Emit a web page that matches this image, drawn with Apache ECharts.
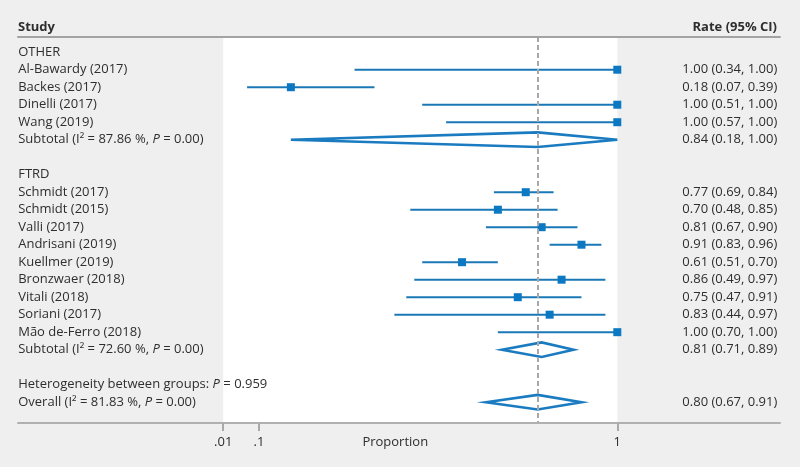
<!DOCTYPE html>
<html><head><meta charset="utf-8">
<script src="https://cdn.jsdelivr.net/npm/echarts@6/dist/echarts.min.js"></script>
<style>html,body{margin:0;padding:0;background:#efefef}#c{width:800px;height:467px}</style>
</head><body><div id="c"></div>
<script>
const groupNames = ['OTHER', 'FTRD'];
const studyNames = [
  ['Al-Bawardy (2017)', 'Backes (2017)', 'Dinelli (2017)', 'Wang (2019)'],
  ['Schmidt (2017)', 'Schmidt (2015)', 'Valli (2017)', 'Andrisani (2019)', 'Kuellmer (2019)',
   'Bronzwaer (2018)', 'Vitali (2018)', 'Soriani (2017)', 'Mão de-Ferro (2018)']
];
const studyRate = [[1.00, 0.18, 1.00, 1.00], [0.77, 0.70, 0.81, 0.91, 0.61, 0.86, 0.75, 0.83, 1.00]];
const studyLow  = [[0.34, 0.07, 0.51, 0.57], [0.69, 0.48, 0.67, 0.83, 0.51, 0.49, 0.47, 0.44, 0.70]];
const studyHigh = [[1.00, 0.39, 1.00, 1.00], [0.84, 0.85, 0.90, 0.96, 0.70, 0.97, 0.91, 0.97, 1.00]];
const subtotalI2 = ['87.86', '72.60'];
const subtotalP = ['0.00', '0.00'];
const subtotalRate = [0.84, 0.81];
const subtotalLow = [0.18, 0.71];
const subtotalHigh = [1.00, 0.89];
const subtotalDiamondMid = [0.80, 0.81];
const heterogeneityP = '0.959';
const overallI2 = '81.83';
const overallP = '0.00';
const overallRate = 0.80;
const overallLow = 0.67;
const overallHigh = 0.91;
const tickValues = [0.01, 0.1, 1];
const tickLabels = ['.01', '.1', '1'];

const FONT = '"Open Sans", "Noto Sans", sans-serif';
const TXT = '#2e2e2e';
const LINE = '#1b78b6';
const SQ = '#0b78c4';

function fmt(r, lo, hi) { return r.toFixed(2) + ' (' + lo.toFixed(2) + ', ' + hi.toFixed(2) + ')'; }

const rows = [];
const ciData = [];
const diamondData = [];
groupNames.forEach((g, gi) => {
  rows.push({ left: g, right: '' });
  studyNames[gi].forEach((n, si) => {
    const r = rows.length;
    rows.push({ left: n, right: fmt(studyRate[gi][si], studyLow[gi][si], studyHigh[gi][si]) });
    ciData.push([studyLow[gi][si], studyHigh[gi][si], r, studyRate[gi][si]]);
  });
  const r = rows.length;
  rows.push({ left: 'Subtotal (I\u00B2 = ' + subtotalI2[gi] + ' %, {i|P} = ' + subtotalP[gi] + ')',
              right: fmt(subtotalRate[gi], subtotalLow[gi], subtotalHigh[gi]) });
  diamondData.push([subtotalLow[gi], subtotalHigh[gi], r, subtotalDiamondMid[gi]]);
  rows.push({ left: '', right: '' });
});
rows.push({ left: 'Heterogeneity between groups: {i|P} = ' + heterogeneityP, right: '' });
const ovRow = rows.length;
rows.push({ left: 'Overall (I\u00B2 = ' + overallI2 + ' %, {i|P} = ' + overallP + ')',
            right: fmt(overallRate, overallLow, overallHigh) });
diamondData.push([overallLow, overallHigh, ovRow, overallRate]);

const rowIdx = rows.map((_, i) => i);
const rich = { i: { fontStyle: 'italic', fontFamily: FONT, fontSize: 13, color: TXT } };

const chart = echarts.init(document.getElementById('c'));
chart.setOption({
  backgroundColor: '#efefef',
  animation: false,
  title: [
    { text: 'Study', left: 18, top: 21, padding: 0,
      textStyle: { fontFamily: FONT, fontSize: 13, fontWeight: 'bold', color: TXT } },
    { text: 'Rate (95% CI)', right: 23, top: 21, padding: 0,
      textStyle: { fontFamily: FONT, fontSize: 13, fontWeight: 'bold', color: TXT } }
  ],
  grid: [
    { left: 219.2, right: 182.7, top: 37, bottom: 44, outerBoundsMode: 'none' },
    { left: 18, right: 20, top: 37, bottom: 44, outerBoundsMode: 'none' }
  ],
  xAxis: [
    { type: 'value', gridIndex: 0, min: 0, max: 1, z: 6,
      axisLine: { show: false, onZero: false }, splitLine: { show: false },
      axisTick: { show: true, customValues: tickValues, length: 8, lineStyle: { color: '#a9a9a9', width: 2 } },
      axisLabel: { customValues: tickValues, margin: 13, fontFamily: FONT, fontSize: 13, color: TXT,
                   formatter: v => tickLabels[tickValues.indexOf(v)] },
      name: 'Proportion', nameLocation: 'middle', nameGap: 13, nameMoveOverlap: false,
      nameTextStyle: { fontFamily: FONT, fontSize: 13, color: TXT, padding: [0, 46, 0, 0] }
    },
    { type: 'value', gridIndex: 1, position: 'top', min: 0, max: 1, z: 5,
      axisLine: { show: true, onZero: false, lineStyle: { color: '#a3a3a3', width: 2 } },
      axisTick: { show: false }, axisLabel: { show: false }, splitLine: { show: false } },
    { type: 'value', gridIndex: 1, position: 'bottom', min: 0, max: 1, z: 5,
      axisLine: { show: true, onZero: false, lineStyle: { color: '#b0b0b0', width: 2 } },
      axisTick: { show: false }, axisLabel: { show: false }, splitLine: { show: false } }
  ],
  yAxis: [
    { type: 'value', gridIndex: 0, inverse: true, min: -0.87, max: 21.19, position: 'left', z: 6,
      axisLine: { show: false, onZero: false }, axisTick: { show: false }, splitLine: { show: false },
      axisLabel: { customValues: rowIdx, align: 'left', margin: 201, fontFamily: FONT, fontSize: 13, color: TXT,
                   width: 400, overflow: 'none',
                   rich: rich, formatter: v => rows[Math.round(v)] ? rows[Math.round(v)].left : '' } },
    { type: 'value', gridIndex: 0, inverse: true, min: -0.87, max: 21.19, position: 'right', z: 6,
      axisLine: { show: false, onZero: false }, axisTick: { show: false }, splitLine: { show: false },
      axisLabel: { customValues: rowIdx, align: 'right', margin: 160, fontFamily: FONT, fontSize: 13, color: TXT,
                   width: 300, overflow: 'none',
                   formatter: v => rows[Math.round(v)] ? rows[Math.round(v)].right : '' } },
    { type: 'value', gridIndex: 1, min: 0, max: 1, show: false }
  ],
  series: [
    { type: 'scatter', xAxisIndex: 0, yAxisIndex: 0, data: [], z: 0, silent: true,
      markArea: { silent: true, itemStyle: { color: '#ffffff' },
        data: [[{ xAxis: tickValues[0] }, { xAxis: tickValues[tickValues.length - 1] }]] },
      markLine: { silent: true, symbol: 'none', label: { show: false },
        lineStyle: { color: '#a8a8a8', width: 2, type: [5, 3] },
        data: [{ xAxis: overallRate }] } },
    { type: 'custom', xAxisIndex: 0, yAxisIndex: 0, z: 3, clip: false,
      encode: { x: [0, 1, 3], y: 2 },
      data: ciData,
      renderItem: (params, api) => {
        const lo = api.coord([api.value(0), api.value(2)]);
        const hi = api.coord([api.value(1), api.value(2)]);
        const e = api.coord([api.value(3), api.value(2)]);
        return { type: 'group', children: [
          { type: 'line', shape: { x1: lo[0], y1: lo[1], x2: hi[0], y2: hi[1] }, style: { stroke: LINE, lineWidth: 2 } },
          { type: 'rect', shape: { x: e[0] - 4, y: e[1] - 4, width: 8, height: 8 }, style: { fill: SQ } }
        ] };
      } },
    { type: 'custom', xAxisIndex: 0, yAxisIndex: 0, z: 3, clip: false,
      encode: { x: [0, 1, 3], y: 2 },
      data: diamondData,
      renderItem: (params, api) => {
        const lo = api.coord([api.value(0), api.value(2)]);
        const hi = api.coord([api.value(1), api.value(2)]);
        const m = api.coord([api.value(3), api.value(2)]);
        const h = 7.3;
        return { type: 'polygon',
          shape: { points: [[lo[0], lo[1]], [m[0], m[1] - h], [hi[0], hi[1]], [m[0], m[1] + h]] },
          style: { fill: 'none', stroke: '#1a7bc0', lineWidth: 2.6, lineJoin: 'miter' } };
      } }
  ]
});
</script></body></html>
